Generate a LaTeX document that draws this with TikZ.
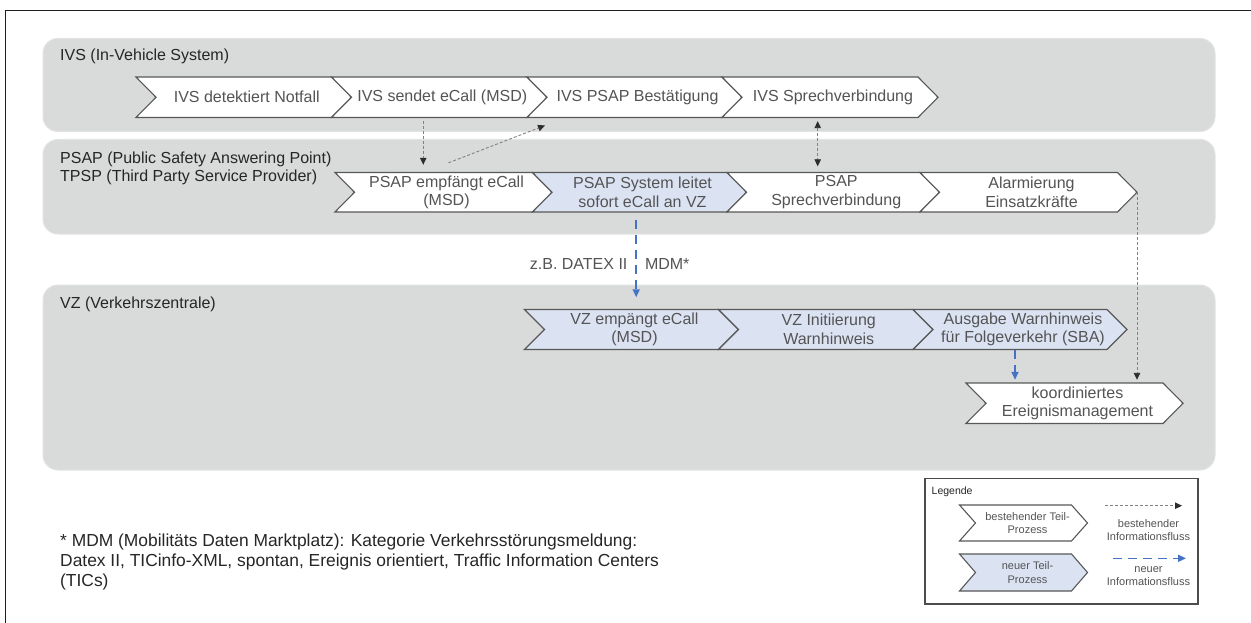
\documentclass[tikz,border=0pt]{standalone}
\usepackage{fontspec}
\setmainfont{Liberation Sans}
\usetikzlibrary{arrows.meta,calc}

\definecolor{lanegray}{RGB}{217,218,218}
\definecolor{laneedge}{RGB}{226,227,227}
\definecolor{chevline}{RGB}{88,88,88}
\definecolor{chevink}{RGB}{84,84,84}
\definecolor{newfill}{RGB}{219,227,243}
\definecolor{newblue}{RGB}{68,114,196}
\definecolor{oldgray}{RGB}{130,130,130}
\definecolor{headgray}{RGB}{45,45,45}
\definecolor{titleink}{RGB}{38,38,38}

\tikzset{
  laneBox/.style={fill=lanegray, draw=laneedge, line width=1pt, rounded corners=15pt},
  chevShape/.style={draw=chevline, line width=1.1pt, line join=miter},
  chevLabel/.style={font=\fontsize{16}{18.5}\selectfont, text=chevink, align=center, inner sep=0pt, xshift=3pt},
  laneTitle/.style={font=\fontsize{16}{18.5}\selectfont, text=titleink, inner sep=0pt, anchor=base west},
  noteText/.style={font=\fontsize{17.4}{20}\selectfont, text=titleink, inner sep=0pt, anchor=base west},
  legendText/.style={font=\fontsize{11}{13.6}\selectfont, text=chevink, align=center, inner sep=0pt},
  oldFlow/.style={draw=oldgray, line width=0.9pt, dash pattern=on 3pt off 2pt,
    -{Triangle[length=7pt,width=6.5pt,color=headgray]}},
  oldBoth/.style={draw=oldgray, line width=0.9pt, dash pattern=on 3pt off 2pt,
    {Triangle[length=7pt,width=6.5pt,color=headgray]}-{Triangle[length=7pt,width=6.5pt,color=headgray]}},
  newFlow/.style={draw=newblue, line width=1.6pt, dash pattern=on 9pt off 6pt,
    -{Triangle[length=8pt,width=7pt,color=newblue]}},
}

% chevron: #1 name, #2 x of top-left, #3 y of top, #4 top width, #5 height, #6 tip depth, #7 fill, #8 label
\newcommand{\chevron}[8]{%
  \filldraw[chevShape, fill=#7] (#2,#3) -- ++(#4,0) -- ++(#6,#5/2) -- ++(-#6,#5/2)
    -- ++(-#4,0) -- ++(#6,-#5/2) -- cycle;
  \node[chevLabel, minimum width={#4-#6}, minimum height=#5] (#1) at ({#2+(#4+#6)/2},{#3+#5/2}) {#8};
  \coordinate (#1-tip) at ({#2+#4+#6},{#3+#5/2});
  \coordinate (#1-sw) at (#2,{#3+#5});
}

\begin{document}
\begin{tikzpicture}[x=1pt,y=-1pt]
\useasboundingbox (0,0) rectangle (1251,623);
\fill[white] (0,0) rectangle (1251,623);

% outer frame
\draw[line width=1.5pt, black!88] (5.5,623) -- (5.5,10.5) -- (1251,10.5);

% swim lanes
\path[laneBox] (43,38.5) rectangle (1215,131.5);
\path[laneBox] (43,139.5) rectangle (1215,234);
\path[laneBox] (43,285) rectangle (1215,470);

% lane titles
\node[laneTitle] (tIVS) at (60,60.7) {IVS (In-Vehicle System)};
\node[laneTitle] (tPSAP) at (60,163.3) {PSAP (Public Safety Answering Point)};
\node[laneTitle] (tTPSP) at (60,181.7) {TPSP (Third Party Service Provider)};
\node[laneTitle] (tVZ) at (60,308.5) {VZ (Verkehrszentrale)};

% IVS steps
\chevron{ivs1}{136}{77}{195.5}{40.5}{20}{white}{IVS detektiert Notfall}
\chevron{ivs2}{331.5}{77}{195.5}{40.5}{20}{white}{IVS sendet eCall (MSD)}
\chevron{ivs3}{527}{77}{195}{40.5}{20}{white}{IVS PSAP Bestätigung}
\chevron{ivs4}{722}{77}{196}{40.5}{20}{white}{IVS Sprechverbindung}

% PSAP / TPSP steps
\chevron{psap1}{335}{172.5}{197.5}{39.5}{19.5}{white}{PSAP empfängt eCall\\(MSD)}
\chevron{psap2}{532.5}{172.5}{194.5}{39.5}{19.5}{newfill}{PSAP System leitet\\sofort eCall an VZ}
\chevron{psap3}{727}{172.5}{193}{39.5}{19.5}{white}{PSAP\\Sprechverbindung}
\chevron{psap4}{920}{172.5}{197.5}{39.5}{19.5}{white}{Alarmierung\\Einsatzkräfte}

% VZ steps
\chevron{vz1}{524.5}{309.5}{194}{40}{20}{newfill}{VZ empängt eCall\\(MSD)}
\chevron{vz2}{718.5}{309.5}{194.5}{40}{20}{newfill}{VZ Initiierung\\Warnhinweis}
\chevron{vz3}{913}{309.5}{194}{40}{20}{newfill}{Ausgabe Warnhinweis\\für Folgeverkehr (SBA)}
\chevron{koord}{966}{383}{197}{40.5}{20}{white}{koordiniertes\\Ereignismanagement}

% information flows
\coordinate (a1s) at ([xshift=-19pt]ivs2.south);
\draw[oldFlow, shorten <=3pt, shorten >=7.5pt] (a1s) -- (a1s |- psap1.north);

\draw[oldFlow] ($(psap1.north)+(2,-9.5)$) -- ($(ivs3-sw)+(18,8)$);

\coordinate (a3s) at ([xshift=-15.3pt]ivs4.south);
\draw[oldBoth, shorten <=3.5pt, shorten >=6pt] (a3s) -- (a3s |- psap3.north);

\coordinate (a4s) at ([xshift=-6.3pt]psap2.south);
\draw[newFlow, shorten <=7.5pt, shorten >=12pt] (a4s) -- (a4s |- vz1.north)
  node[pos=0.535, anchor=east, xshift=-8pt, inner sep=0pt, font=\fontsize{16}{18.5}\selectfont, text=chevink] (lblDatex) {z.B. DATEX II}
  node[pos=0.535, anchor=west, xshift=8pt, inner sep=0pt, font=\fontsize{16}{18.5}\selectfont, text=chevink] (lblMdm) {MDM*};

\draw[oldFlow, shorten >=3pt] (psap4-tip) -- (psap4-tip |- koord.north);

\coordinate (a6s) at ([xshift=-8pt]vz3.south);
\draw[newFlow, shorten >=3pt] (a6s) -- (a6s |- koord.north);

% footnote
\node[noteText] (note1) at (60,546.5) {* MDM (Mobilitäts Daten Marktplatz): Kategorie Verkehrsstörungsmeldung:};
\node[noteText] (note2) at (60,566.5) {Datex II, TICinfo-XML, spontan, Ereignis orientiert, Traffic Information Centers};
\node[noteText] (note3) at (60,586.5) {(TICs)};

% legend
\draw[line width=1.1pt, draw=black!70, fill=white] (925,478.5) rectangle (1198,604);
\node[inner sep=0pt, anchor=base west, font=\fontsize{10.5}{12}\selectfont, text=titleink] (legTitle) at (931.5,494) {Legende};
\begin{scope}[chevLabel/.append style={font=\fontsize{11}{13.6}\selectfont, xshift=1pt}]
  \chevron{legOld}{959.5}{505}{112}{36}{16}{white}{bestehender Teil-\\Prozess}
  \chevron{legNew}{959.5}{554}{112}{37}{16}{newfill}{neuer Teil-\\Prozess}
\end{scope}
\coordinate (legOldA) at (1105,505.7);
\coordinate (legOldB) at (1182,505.7);
\draw[oldFlow] (legOldA) -- (legOldB);
\node[legendText] (legOldTxt) at (1148.5,530) {bestehender\\Informationsfluss};
\coordinate (legNewA) at (1113,558.3);
\coordinate (legNewB) at (1186,558.3);
\draw[newFlow] (legNewA) -- (legNewB);
\node[legendText] (legNewTxt) at (1148.5,576) {neuer\\Informationsfluss};
\end{tikzpicture}
\end{document}
